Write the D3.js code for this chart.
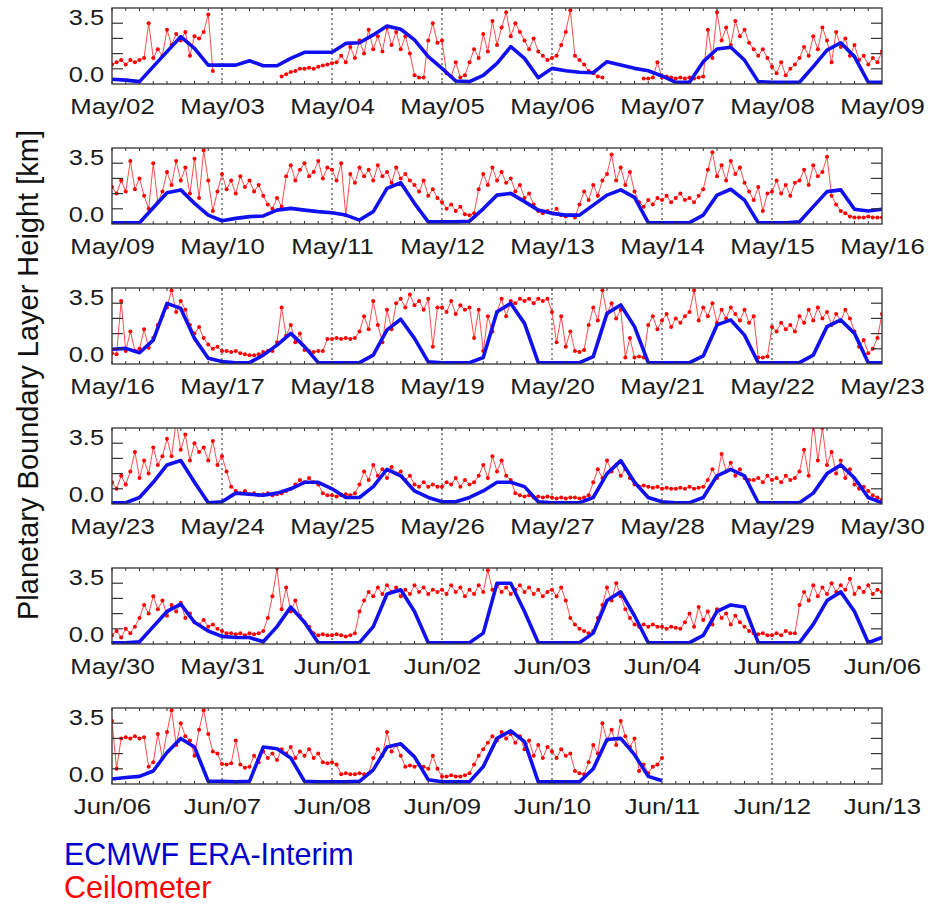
<!DOCTYPE html>
<html>
<head>
<meta charset="utf-8">
<script src="https://cdn.jsdelivr.net/npm/d3@7"></script>
<style>
  body { margin: 0; background: #fff; }
  text { font-family: "Liberation Sans", Arial, Helvetica, sans-serif; }
</style>
</head>
<body>
<svg id="chart" width="942" height="905"></svg>
<script>
// first day of each 7-day panel
const panelStarts = ["2012-05-02", "2012-05-09", "2012-05-16", "2012-05-23", "2012-05-30", "2012-06-06"];

// ECMWF ERA-Interim PBL height [km], 3-hourly from panel start (8 values per day)
const eraP1 = [0.22,0.18,0.11,0.8,1.49,2.18,1.64,0.87, 0.87,0.87,1.07,0.84,0.84,1.18,1.46,1.46,
  1.46,1.87,1.9,2.26,2.67,2.52,2.03,1.26, 0.72,0.14,0.11,0.4,0.95,1.72,1.18,0.29,
  0.72,0.61,0.54,0.52,1.03,0.87,0.72,0.61, 0.37,0.08,0.08,1.03,1.61,1.69,1.1,0.11,
  0.08,0.08,0.08,0.8,1.56,1.9,1.26,0.08, 0.08];
const eraP2 = [0.06,0.06,0.06,0.75,1.44,1.57,0.95,0.41, 0.15,0.26,0.34,0.37,0.64,0.72,0.64,0.57,
  0.52,0.41,0.18,0.57,1.64,1.9,0.95,0.1, 0.1,0.1,0.13,0.7,1.33,1.41,1.03,0.64,
  0.49,0.41,0.41,0.87,1.33,1.57,1.23,0.06, 0.06,0.06,0.06,0.41,1.33,1.6,1.1,0.06,
  0.06,0.06,0.1,0.8,1.49,1.57,0.68,0.6, 0.68];
const eraP3 = [0.68,0.72,0.52,1.1,2.79,2.56,1.18,0.26, 0.11,0.06,0.06,0.41,0.87,1.41,0.8,0.06,
  0.06,0.06,0.06,0.41,1.57,2.06,1.18,0.1, 0.06,0.06,0.06,0.3,2.41,2.79,1.87,0.06,
  0.06,0.06,0.06,0.34,2.33,2.72,1.72,0.06, 0.06,0.06,0.06,0.37,1.8,2.03,1.33,0.06,
  0.06,0.06,0.06,0.41,1.72,2.03,1.41,0.06, 0.06];
const eraP4 = [0.06,0.06,0.3,1.0,1.8,2.0,1.0,0.06, 0.1,0.5,0.45,0.4,0.5,0.7,1.0,1.0,
  0.7,0.3,0.3,0.8,1.6,1.3,0.6,0.3, 0.1,0.1,0.3,0.6,1.0,1.0,0.8,0.1,
  0.06,0.06,0.06,0.3,1.4,2.0,1.0,0.3, 0.1,0.06,0.06,0.3,1.3,1.6,1.3,0.06,
  0.06,0.06,0.06,0.5,1.4,1.8,1.2,0.3, 0.06];
const eraP5 = [0.06,0.06,0.1,0.8,1.5,1.84,1.0,0.6, 0.35,0.3,0.3,0.1,0.8,1.7,1.0,0.06,
  0.06,0.06,0.06,0.8,2.3,2.5,1.5,0.06, 0.06,0.06,0.06,0.5,2.8,2.8,1.5,0.06,
  0.06,0.06,0.06,0.5,2.0,2.4,1.3,0.06, 0.06,0.06,0.06,0.4,1.5,1.8,1.7,0.06,
  0.06,0.06,0.06,0.9,2.0,2.4,1.5,0.06, 0.3];
const eraP6 = [0.23,0.3,0.35,0.6,1.45,2.1,1.7,0.12, 0.12,0.1,0.12,1.7,1.62,1.2,0.12,0.1,
  0.1,0.1,0.12,0.65,1.7,1.85,1.25,0.2, 0.1,0.1,0.1,0.8,2.1,2.45,1.95,0.1,
  0.1,0.1,0.1,0.7,2.05,2.1,1.35,0.35, 0.15];

// Ceilometer PBL height [km], hourly from panel start (24 values per row = one day), null = no data
const ceilP1 = [
  0.9,1.0,1.1,0.9,1.1,1.0,1.1,1.2,2.8,1.2,1.6,1.3,2.5,1.8,2.3,2.0,2.4,1.3,2.2,2.1,2.4,3.2,0.6,null,
  null,null,null,null,null,null,null,null,null,null,null,null,null,0.35,0.45,0.55,0.6,0.7,0.7,0.75,0.7,0.8,0.85,0.9,
  0.95,1.0,1.3,1.0,1.7,1.2,2.0,1.4,2.5,1.6,2.2,1.5,2.6,1.8,2.4,1.6,2.2,1.4,0.4,0.3,0.3,2.0,2.8,1.9,
  2.0,0.5,0.35,1.0,0.3,0.4,1.0,1.6,1.2,2.3,1.5,2.9,1.8,2.6,3.3,2.2,2.8,2.4,2.0,1.6,2.1,1.5,1.3,1.1,
  1.2,1.3,1.8,2.4,3.4,1.3,1.1,0.9,0.6,0.5,0.35,0.3,null,null,null,null,null,null,null,null,0.25,0.25,0.3,1.0,
  0.3,0.35,0.3,0.25,0.3,0.25,0.3,0.25,0.3,0.35,2.5,1.2,3.3,2.0,2.6,1.8,2.9,2.2,2.5,1.9,1.6,1.3,1.6,1.2,
  0.8,0.5,1.0,0.4,0.7,0.9,1.2,1.7,1.3,2.2,1.6,2.6,2.0,1.0,2.4,1.7,2.1,1.3,1.8,1.1,1.3,0.9,1.2,1.0,
  1.5];
const ceilP2 = [
  1.7,1.4,2.0,1.5,2.9,1.6,2.1,1.3,0.7,2.8,1.0,1.5,2.4,1.8,2.9,2.0,2.6,1.4,3.0,1.2,3.4,2.0,0.6,1.5,
  2.3,1.6,2.0,1.4,2.2,1.7,2.0,1.5,1.8,1.3,0.9,0.7,1.2,0.8,2.2,2.7,2.0,2.5,2.8,2.2,2.4,2.9,2.1,2.6,
  2.5,2.0,2.8,0.4,2.3,1.9,2.6,2.2,2.5,2.0,2.7,2.2,2.4,1.9,2.6,2.1,2.3,2.0,1.8,1.5,2.0,1.3,1.6,1.2,
  1.0,0.7,0.9,0.6,0.8,0.45,0.4,0.5,1.6,2.3,1.8,2.6,2.0,2.4,1.9,2.1,1.5,1.8,1.2,1.4,0.9,0.6,0.5,0.6,
  0.5,0.7,0.4,0.35,0.4,0.3,0.9,1.5,1.1,1.8,1.3,2.0,2.3,3.2,2.0,2.6,1.8,2.4,1.5,1.0,0.8,1.1,0.9,1.2,
  1.1,1.3,1.0,1.2,1.4,1.1,1.2,1.0,1.3,1.6,2.5,3.3,2.2,2.7,2.0,2.9,2.3,2.6,1.9,1.5,1.1,1.7,0.6,1.4,
  1.5,2.0,1.4,1.8,1.3,1.9,2.0,2.5,1.8,2.7,2.2,2.4,3.1,1.3,0.9,0.6,0.5,0.35,0.3,0.3,0.3,0.35,0.3,0.3,
  0.3];
const ceilP3 = [
  0.5,0.45,2.9,0.6,1.5,0.6,0.7,1.6,0.75,1.2,1.8,2.2,2.6,3.4,2.4,2.9,2.5,1.8,1.4,1.7,1.2,0.9,0.7,0.8,
  0.6,0.6,0.55,0.6,0.5,0.45,0.4,0.4,0.45,0.55,0.6,0.6,1.0,2.6,1.3,1.8,1.0,1.4,0.65,0.6,0.55,0.6,0.6,1.15,
  1.15,1.2,1.15,1.2,1.15,1.2,1.5,2.2,1.6,2.9,1.8,1.0,2.5,1.6,2.8,3.0,2.6,3.2,2.7,2.9,2.5,3.0,0.8,2.6,
  2.6,2.4,2.9,2.3,2.7,2.5,2.6,1.2,2.5,0.6,2.2,1.5,2.4,3.0,2.2,2.9,2.8,3.0,2.9,3.0,2.8,3.0,2.9,3.0,
  2.4,1.0,2.2,0.8,1.5,0.6,0.55,0.65,1.8,2.6,2.0,3.4,2.3,2.8,2.1,2.5,0.3,1.2,0.3,0.35,0.3,1.8,2.2,1.6,
  2.0,2.3,1.7,2.1,1.9,2.2,2.4,3.4,2.0,2.6,2.2,2.8,1.9,2.5,2.1,2.6,2.3,2.0,2.5,1.9,2.2,0.3,0.3,0.35,
  1.7,1.5,1.9,1.6,1.8,1.5,2.2,1.9,2.5,2.0,2.6,2.1,2.4,1.8,2.3,2.0,2.5,2.1,1.5,0.8,1.1,0.5,0.7,1.2,
  2.3];
const ceilP4 = [
  1.0,0.7,1.3,0.9,1.5,2.4,1.2,2.0,1.4,2.6,1.8,2.2,3.0,2.2,3.8,2.5,3.2,2.0,2.8,2.4,2.6,2.0,2.9,1.8,
  2.2,1.5,0.8,0.6,0.5,0.6,0.45,0.5,0.4,0.45,0.5,0.4,0.45,0.5,0.6,0.7,0.9,1.1,1.0,1.2,1.0,0.9,0.5,0.4,
  0.4,0.35,0.4,0.45,0.4,0.5,0.9,1.5,1.1,1.8,1.3,1.6,1.2,1.7,1.4,1.5,1.1,1.3,0.9,0.8,1.0,0.8,0.9,0.8,
  0.8,1.0,0.9,1.2,0.8,1.1,0.9,1.0,1.3,1.8,1.2,2.2,1.5,2.0,1.3,1.1,0.5,0.4,0.35,0.4,0.3,0.35,0.3,0.35,
  0.3,0.25,0.3,0.25,0.3,0.3,0.25,0.3,0.4,1.0,1.6,1.2,2.0,1.5,1.8,1.3,1.6,1.2,0.9,0.8,0.85,0.8,0.75,0.8,
  0.7,0.75,0.7,0.7,0.75,0.7,0.8,0.7,0.75,0.8,1.1,1.6,1.2,2.3,1.5,1.9,1.3,1.6,1.2,1.1,1.1,1.2,1.0,1.3,
  1.1,1.2,1.0,1.3,1.1,1.2,1.5,2.5,1.3,3.8,2.0,3.5,1.8,2.4,1.4,2.0,1.2,1.6,0.9,0.7,0.8,0.6,0.4,0.3,
  0.2];
const ceilP5 = [
  0.4,0.6,0.3,0.7,0.5,0.8,1.2,1.8,1.4,2.2,1.6,2.0,1.3,1.8,1.5,1.9,1.2,1.4,1.0,0.9,1.1,0.8,0.9,0.7,
  0.6,0.5,0.5,0.45,0.5,0.4,0.5,0.45,0.5,0.6,1.2,2.2,3.5,1.6,2.6,1.5,2.0,1.3,1.0,0.8,0.5,0.4,0.45,0.4,
  0.4,0.45,0.4,0.35,0.4,0.5,1.5,2.0,2.4,2.2,2.6,2.3,2.7,2.4,2.6,2.2,2.5,2.3,2.7,2.4,2.6,2.3,2.5,2.4,
  2.5,2.3,2.7,2.4,2.6,2.2,2.5,2.3,2.7,2.4,3.4,2.5,2.7,2.4,2.6,2.3,2.5,2.7,2.4,2.6,2.3,2.5,2.2,2.4,
  2.5,2.2,2.6,2.0,1.2,0.9,0.7,0.6,0.5,0.6,1.2,1.8,2.6,2.0,2.8,2.2,1.6,1.2,0.9,0.8,0.9,0.8,0.9,0.8,
  0.8,0.7,0.8,0.75,0.7,1.0,1.4,0.8,1.7,1.1,1.5,0.9,1.6,1.2,1.4,0.9,1.3,1.0,0.8,0.6,0.5,0.45,0.5,0.4,
  0.4,0.5,0.4,0.6,0.5,0.5,1.8,2.4,2.0,2.7,2.2,2.6,2.3,2.8,2.4,2.7,2.5,3.0,2.3,2.6,2.4,2.7,2.3,2.5,
  2.4];
const ceilP6 = [
  2.9,0.7,2.1,2.15,2.1,2.2,2.1,2.15,0.8,1.0,2.3,1.2,2.4,3.4,1.8,2.8,2.2,2.0,1.3,2.5,3.4,2.3,1.5,1.4,
  0.92,0.9,0.95,2.0,0.9,0.75,0.8,1.3,1.0,1.5,1.2,1.4,1.1,1.6,1.4,1.7,1.2,1.5,1.3,1.6,1.2,1.4,1.0,0.95,
  1.0,0.9,0.45,0.5,0.45,0.45,0.5,0.45,0.5,1.2,1.6,1.3,2.4,1.5,1.8,1.3,0.8,0.85,0.8,0.9,0.8,0.7,1.3,0.7,
  0.35,0.35,0.4,0.35,0.35,0.4,0.5,0.9,1.3,1.6,1.9,2.2,2.0,2.4,2.1,2.3,1.9,2.2,1.6,2.0,1.3,1.8,1.2,1.7,
  1.5,1.2,1.6,1.3,1.4,0.6,0.5,0.45,1.0,1.8,1.4,2.8,2.0,2.5,1.8,2.9,2.2,1.7,2.1,0.6,0.9,0.5,0.8,0.9,
  1.2];

const eraSeries = [eraP1, eraP2, eraP3, eraP4, eraP5, eraP6];
const ceilSeries = [ceilP1, ceilP2, ceilP3, ceilP4, ceilP5, ceilP6];
const yTickValues = [0.7, 1.4, 2.1, 2.8];
const yLabels = [{v: 0, t: "0.0"}, {v: 3.5, t: "3.5"}];
const legendItems = [{name: "ECMWF ERA-Interim", color: "#0000cd"}, {name: "Ceilometer", color: "#ff0000"}];

const svg = d3.select("#chart");
const left = 112, right = 882, panelH = 76, firstTop = 8, step = 140;
const fmt = d3.utcFormat("%b/%d");
const hour = 3600 * 1000;

panelStarts.forEach((s, i) => {
  const t0 = new Date(s + "T00:00:00Z");
  const t1 = d3.utcDay.offset(t0, 7);
  const top = firstTop + i * step, bottom = top + panelH;

  const x = d3.scaleUtc().domain([t0, t1]).range([left, right]);
  const y = d3.scaleLinear().domain([0, 3.5]).range([bottom, top]);

  const g = svg.append("g");
  const clipId = "clip" + i;
  g.append("clipPath").attr("id", clipId)
    .append("rect").attr("x", left).attr("y", top).attr("width", right - left).attr("height", panelH);

  // dotted day lines
  const days = d3.utcDay.range(d3.utcDay.offset(t0, 1), t1);
  g.selectAll(".day").data(days).enter().append("line")
    .attr("x1", d => x(d)).attr("x2", d => x(d))
    .attr("y1", top).attr("y2", bottom)
    .attr("stroke", "#222").attr("stroke-width", 1)
    .attr("stroke-dasharray", "2,3");

  const ceil = ceilSeries[i].map((v, k) => ({t: new Date(+t0 + k * hour), v: v}));
  const era = eraSeries[i].map((v, k) => ({t: new Date(+t0 + k * 3 * hour), v: v}));

  const plot = g.append("g").attr("clip-path", `url(#${clipId})`);

  const line = d3.line().defined(d => d.v != null).x(d => x(d.t)).y(d => y(d.v));

  plot.append("path").datum(ceil)
    .attr("d", line)
    .attr("fill", "none").attr("stroke", "#ff2020").attr("stroke-width", 1).attr("stroke-opacity", 0.8);

  plot.selectAll(".pt").data(ceil.filter(d => d.v != null)).enter().append("circle")
    .attr("cx", d => x(d.t)).attr("cy", d => y(d.v)).attr("r", 2)
    .attr("fill", "#ff0000");

  plot.append("path").datum(era)
    .attr("d", line)
    .attr("fill", "none").attr("stroke", "#1010f0").attr("stroke-width", 3.6)
    .attr("stroke-linejoin", "round");

  // frame
  g.append("rect").attr("x", left).attr("y", top).attr("width", right - left).attr("height", panelH)
    .attr("fill", "none").attr("stroke", "#333").attr("stroke-width", 1.3);

  // y ticks on both sides
  g.selectAll(".ytl").data(yTickValues).enter().append("line")
    .attr("x1", left).attr("x2", left + 11).attr("y1", d => y(d)).attr("y2", d => y(d))
    .attr("stroke", "#333").attr("stroke-width", 1.2);
  g.selectAll(".ytr").data(yTickValues).enter().append("line")
    .attr("x1", right).attr("x2", right - 11).attr("y1", d => y(d)).attr("y2", d => y(d))
    .attr("stroke", "#333").attr("stroke-width", 1.2);

  // 3-hourly minor ticks on top and bottom
  const minor = d3.utcHour.every(3).range(t0, t1);
  g.selectAll(".xtb").data(minor).enter().append("line")
    .attr("x1", d => x(d)).attr("x2", d => x(d)).attr("y1", bottom).attr("y2", bottom - 3)
    .attr("stroke", "#333").attr("stroke-width", 1);
  g.selectAll(".xtt").data(minor).enter().append("line")
    .attr("x1", d => x(d)).attr("x2", d => x(d)).attr("y1", top).attr("y2", top + 3)
    .attr("stroke", "#333").attr("stroke-width", 1);

  // day labels
  const xAxis = d3.axisBottom(x).ticks(d3.utcDay.every(1)).tickFormat(fmt).tickSize(0).tickPadding(0);
  const ax = g.append("g").attr("transform", `translate(0,${bottom + 30})`).call(xAxis);
  ax.select(".domain").remove();
  ax.selectAll("text")
    .attr("dy", 0).attr("y", 0)
    .attr("font-size", 22).attr("fill", "#1a1a1a")
    .style("font-family", '"Liberation Sans", Arial, sans-serif')
    .attr("transform", "scale(1.17,1)");

  // y labels
  g.selectAll(".yl").data(yLabels).enter().append("text")
    .attr("transform", d => `translate(104,${d.v === 0 ? y(d.v) - 2 : y(d.v) + 17}) scale(1.18,1)`)
    .attr("text-anchor", "end").attr("font-size", 21.5).attr("fill", "#1a1a1a")
    .text(d => d.t);
});

// y axis title
svg.append("text")
  .attr("transform", "translate(38,375) rotate(-90)")
  .attr("text-anchor", "middle").attr("font-size", 29).attr("fill", "#111")
  .text("Planetary Boundary Layer Height [km]");

// legend
svg.selectAll(".leg").data(legendItems).enter().append("text")
  .attr("x", 64).attr("y", (d, k) => 865 + k * 33)
  .attr("font-size", 30.5).attr("fill", d => d.color)
  .text(d => d.name);
</script>
</body>
</html>
